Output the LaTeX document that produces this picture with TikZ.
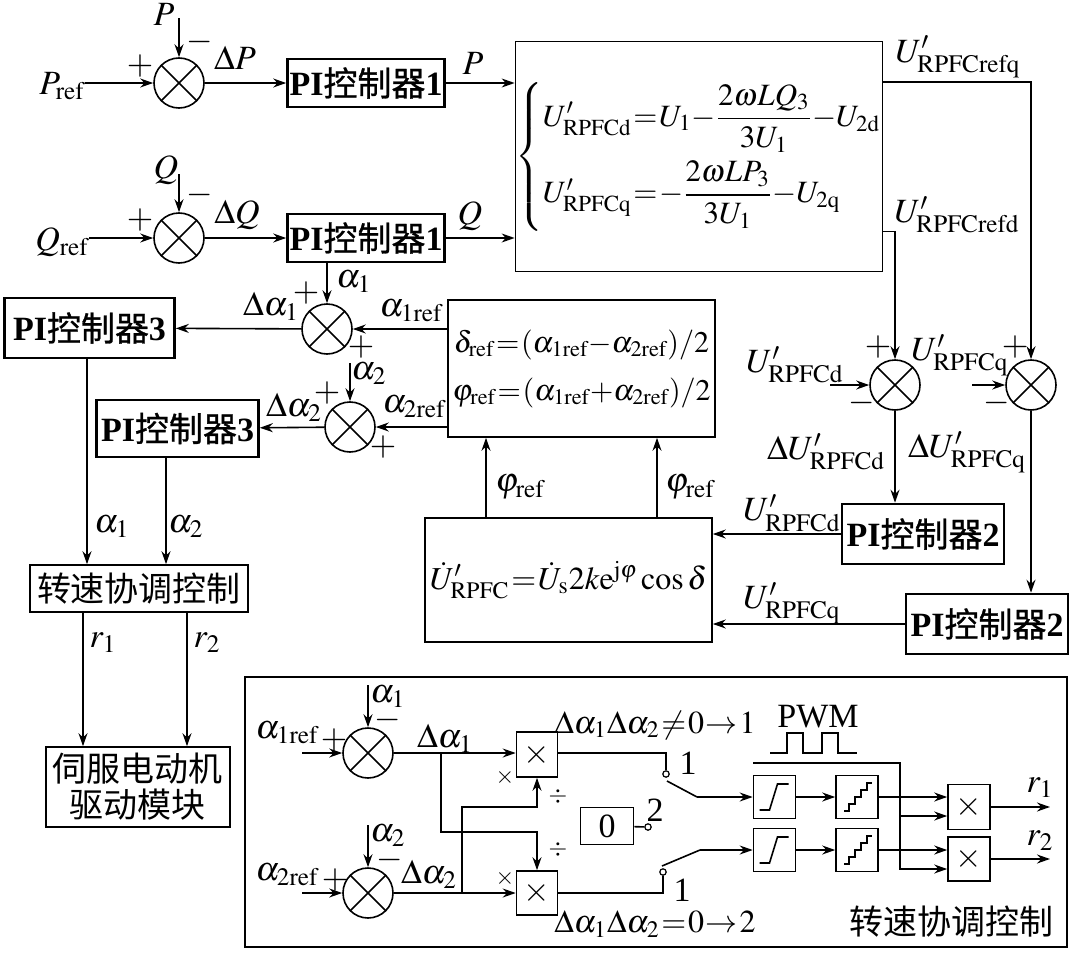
\documentclass[tikz,border=0pt]{standalone}
\usepackage{amsmath}
\usepackage{mathptmx}
\usepackage{fontspec}
\setmainfont{Liberation Serif}
\newfontfamily\zhfont{Noto Sans CJK SC}[BoldFont={Noto Sans CJK SC}, BoldFeatures={FakeBold=0.9}]
\newcommand{\zh}[1]{{\zhfont #1}}
\usepackage{tikz}
\usetikzlibrary{arrows.meta, calc}
\tikzset{
  % summing junction
  sumj/.style={circle, draw, line width=0.8pt, minimum size=25pt, inner sep=0pt},
  % PI controllers
  pibox/.style={rectangle, draw, line width=1.3pt, minimum width=78pt,
    minimum height=24pt, inner sep=1pt, font=\fontsize{17}{20}\selectfont\bfseries},
  pibig/.style={pibox, minimum width=81pt, minimum height=30pt},
  % plain blocks
  blk/.style={rectangle, draw, line width=0.8pt, inner sep=2pt, align=center},
  fnbox/.style={rectangle, draw, line width=0.8pt, minimum width=21pt,
    minimum height=21.5pt, inner sep=0pt},
  % switch contact
  contact/.style={circle, draw, fill=white, line width=0.6pt, minimum size=3.2pt, inner sep=0pt},
  % lines
  wire/.style={line width=0.8pt},
  arr/.style={-{Stealth[length=6.5pt,width=4.5pt]}, line width=0.8pt},
  % labels
  lab/.style={inner sep=0pt},
  smalllab/.style={inner sep=0pt, font=\fontsize{12}{14}\selectfont},
}

\begin{document}
\thickmuskip=1mu
\medmuskip=0mu
\begin{tikzpicture}[x=0.5pt, y=-0.5pt, font=\fontsize{17}{20}\selectfont]
\useasboundingbox (0,0) rectangle (1072,953);

% ---- power loops ----
\node[sumj] (sP) at (179,83) {};
\node[sumj] (sQ) at (179,238) {};
\node[pibox] (piP) at (366,83) {PI\zh{控制器}1};
\node[pibox] (piQ) at (366,238) {PI\zh{控制器}1};
\node[blk, minimum width=183pt, minimum height=115pt, inner sep=0pt,
  font=\fontsize{15.5}{18}\selectfont] (eq) at (699,156.5)
  {$\left\{\begin{array}{@{}l@{}}
   U'_{\mathrm{RPFCd}}=U_1-\dfrac{2\omega LQ_3}{3U_1}-U_{2\mathrm{d}}\\[12pt]
   U'_{\mathrm{RPFCq}}=-\dfrac{2\omega LP_3}{3U_1}-U_{2\mathrm{q}}
   \end{array}\right.$};

\node[lab] (lPref) at (62,86) {$P_{\mathrm{ref}}$};
\node[lab] (lQref) at (62,242) {$Q_{\mathrm{ref}}$};
\node[lab] (lP) at (164,14) {$P$};
\node[lab] (lQ) at (166,170) {$Q$};
\coordinate (Ptop) at (179,18);
\coordinate (Qtop) at (179,174);
\node[lab] (pP1) at (140,66) {$+$};
\node[lab] (mP1) at (200,42) {$-$};
\node[lab] (pQ1) at (140,220) {$+$};
\node[lab] (mQ1) at (200,195) {$-$};
\node[lab] (ldP) at (235,58) {$\Delta P$};
\node[lab] (ldQ) at (237,215) {$\Delta Q$};
\node[lab] (lPo) at (473,63) {$P$};
\node[lab] (lQo) at (470,216) {$Q$};

\draw[arr] (lPref.east |- sP) -- (sP);
\draw[arr] (lQref.east |- sQ) -- (sQ);
\draw[arr] (Ptop) -- (sP);
\draw[arr] (Qtop) -- (sQ);
\draw[arr] (sP) -- (piP);
\draw[arr] (sQ) -- (piQ);
\draw[arr] (piP) -- (piP -| eq.west);
\draw[arr] (piQ) -- (piQ -| eq.west);

% ---- voltage loops ----
\node[sumj] (sd) at (895,385) {};
\node[sumj] (sq) at (1031,385) {};
\node[pibig] (pid) at (923,534) {PI\zh{控制器}2};
\node[pibig] (piq) at (987,624) {PI\zh{控制器}2};
\node[blk, minimum width=143.5pt, minimum height=62pt, inner sep=0pt,
  font=\fontsize{16}{19}\selectfont] (U) at (568.5,580)
  {$\dot U'_{\mathrm{RPFC}}=\dot U_{\mathrm{s}}2k\mathrm{e}^{\mathrm{j}\varphi}\cos\delta$};
\node[blk, minimum width=133.5pt, minimum height=68.5pt, inner sep=0pt,
  font=\fontsize{15}{18}\selectfont] (ph) at (581.5,368.5)
  {$\delta_{\mathrm{ref}}=(\alpha_{1\mathrm{ref}}-\alpha_{2\mathrm{ref}})/2$\\[6pt]
   $\varphi_{\mathrm{ref}}=(\alpha_{1\mathrm{ref}}+\alpha_{2\mathrm{ref}})/2$};

\node[lab] (lrefq) at (958,57) {$U'_{\mathrm{RPFCrefq}}$};
\node[lab] (lrefd) at (957,215) {$U'_{\mathrm{RPFCrefd}}$};
\node[lab] (lUd) at (795,365) {$U'_{\mathrm{RPFCd}}$};
\node[lab] (lUq) at (960,355) {$U'_{\mathrm{RPFCq}}$};
\coordinate (Udst) at (830,385);
\coordinate (Uqst) at (972,385);
\node[lab] (pd1) at (878,347) {$+$};
\node[lab] (md1) at (862,403) {$-$};
\node[lab] (pq1) at (1015,347) {$+$};
\node[lab] (mq1) at (997,403) {$-$};
\node[lab] (ldUd) at (826,452) {$\Delta U'_{\mathrm{RPFCd}}$};
\node[lab] (ldUq) at (967,452) {$\Delta U'_{\mathrm{RPFCq}}$};
\node[lab] (lUdo) at (792,513) {$U'_{\mathrm{RPFCd}}$};
\node[lab] (lUqo) at (792,603) {$U'_{\mathrm{RPFCq}}$};
\node[lab] (lphi1) at (520,487) {$\varphi_{\mathrm{ref}}$};
\node[lab] (lphi2) at (690,487) {$\varphi_{\mathrm{ref}}$};

\draw[arr] ($(eq.north east)+(0,41)$) -| (sq);
\draw[arr] ($(eq.south east)+(0,-41)$) -| (sd);
\draw[arr] (Udst) -- (sd);
\draw[arr] (Uqst) -- (sq);
\draw[arr] (sd) -- (sd |- pid.north);
\draw[arr] (sq) -- (sq |- piq.north);
\draw[arr] (pid) -- (pid -| U.east);
\draw[arr] (piq) -- (piq -| U.east);
\coordinate (xf1) at (486,0);
\coordinate (xf2) at (657,0);
\draw[arr] (xf1 |- U.north) -- (xf1 |- ph.south);
\draw[arr] (xf2 |- U.north) -- (xf2 |- ph.south);

% ---- angle loops ----
\node[sumj] (sa1) at (327,329) {};
\node[sumj] (sa2) at (350,427) {};
\node[pibig, minimum width=85pt] (pi3a) at (89.5,328) {PI\zh{控制器}3};
\node[pibig, minimum height=28.5pt] (pi3b) at (177.5,428.5) {PI\zh{控制器}3};
\node[blk, minimum width=109pt, minimum height=23.5pt] (coord) at (139,588.5) {\zh{转速协调控制}};
\node[blk, minimum width=92pt, minimum height=40pt, inner sep=0pt] (servo) at (138,787)
  {\zh{伺服电动机}\\[-2pt]\zh{驱动模块}};

\node[lab] (la1) at (354,282) {$\alpha_1$};
\node[lab] (pa1) at (306,293) {$+$};
\node[lab] (lda1) at (271,306) {$\Delta\alpha_1$};
\node[lab] (la1r) at (411,311) {$\alpha_{1\mathrm{ref}}$};
\node[lab] (qa1) at (361,347) {$+$};
\node[lab] (la2) at (369,374) {$\alpha_2$};
\node[lab] (pa2) at (327,393) {$+$};
\node[lab] (lda2) at (294,407) {$\Delta\alpha_2$};
\node[lab] (la2r) at (414,407) {$\alpha_{2\mathrm{ref}}$};
\node[lab] (qa2) at (383,447) {$+$};
\coordinate (a2top) at (350,363);
\coordinate (xa1) at (87,0);
\coordinate (xa2) at (166,0);
\coordinate (xr1) at (83,0);
\coordinate (xr2) at (187,0);
\node[lab] (la1o) at (112,527) {$\alpha_1$};
\node[lab] (la2o) at (186,527) {$\alpha_2$};
\node[lab] (lr1o) at (103,643) {$r_1$};
\node[lab] (lr2o) at (207,643) {$r_2$};

\draw[arr] (sa1 -| ph.west) -- (sa1);
\draw[arr] (sa2 -| ph.west) -- (sa2);
\draw[arr] (sa1 |- piQ.south) -- (sa1);
\draw[arr] (a2top) -- (sa2);
\draw[arr] (sa1) -- (pi3a);
\draw[arr] (sa2) -- (pi3b);
\draw[arr] (xa1 |- pi3a.south) -- (xa1 |- coord.north);
\draw[arr] (xa2 |- pi3b.south) -- (xa2 |- coord.north);
\draw[arr] (xr1 |- coord.south) -- (xr1 |- servo.north);
\draw[arr] (xr2 |- coord.south) -- (xr2 |- servo.north);

% ---- speed coordination detail ----
\node[draw, line width=0.9pt, minimum width=411pt, minimum height=135pt] (inset) at (656,812) {};
\node[lab] (linset) at (951,922) {\zh{转速协调控制}};
\node[sumj] (sb1) at (368,753) {};
\node[sumj] (sb2) at (368,893) {};
\node[fnbox, minimum width=20.5pt, minimum height=22.5pt] (m1) at (537,754.5) {$\times$};
\node[fnbox, minimum width=20.5pt, minimum height=22pt] (m2) at (537,893) {$\times$};
\node[fnbox, minimum width=26.5pt, minimum height=18.5pt] (zero) at (607,826) {0};
\node[contact] (c1) at (666,774) {};
\node[contact] (c2) at (648,827) {};
\node[contact] (c3) at (663,872) {};
\node[fnbox] (r1) at (774.5,797) {};
\node[fnbox] (r2) at (774.5,850) {};
\node[fnbox] (st1) at (857,797) {};
\node[fnbox] (st2) at (857,850) {};
\node[fnbox, minimum height=22.5pt] (mr1) at (969,807) {$\times$};
\node[fnbox, minimum height=22pt] (mr2) at (969,859) {$\times$};

\node[lab] (lb1r) at (287,733) {$\alpha_{1\mathrm{ref}}$};
\node[lab] (pb1) at (334,740) {$+$};
\node[lab] (lb1) at (388,697) {$\alpha_1$};
\node[lab] (mb1) at (388,720) {$-$};
\node[lab] (ldb1) at (445,738) {$\Delta\alpha_1$};
\node[lab] (lb2r) at (287,875) {$\alpha_{2\mathrm{ref}}$};
\node[lab] (pb2) at (335,880) {$+$};
\node[lab] (lb2) at (388,836) {$\alpha_2$};
\node[lab] (mb2) at (390,860) {$-$};
\node[lab] (ldb2) at (429,874) {$\Delta\alpha_2$};
\node[smalllab] (xm1) at (505,777) {$\times$};
\node[smalllab] (dm1) at (558,796) {$\div$};
\node[smalllab] (xm2) at (505,878) {$\times$};
\node[smalllab] (dm2) at (558,849) {$\div$};
\node[lab, font=\fontsize{16}{19}\selectfont] (lcase1) at (655,725) {$\Delta\alpha_1\Delta\alpha_2\neq0\to1$};
\node[lab, font=\fontsize{16}{19}\selectfont] (lcase2) at (655,924) {$\Delta\alpha_1\Delta\alpha_2=0\to2$};
\node[lab] (ln1) at (688,763) {1};
\node[lab] (ln2) at (655,810) {2};
\node[lab] (ln3) at (682,890) {1};
\node[lab] (lpwm) at (818,717) {PWM};
\node[lab] (lr1) at (1040,788) {$r_1$};
\node[lab] (lr2) at (1040,841) {$r_2$};

\coordinate (b1in) at (302,753);
\coordinate (b2in) at (302,893);
\coordinate (b1top) at (368,685);
\coordinate (b2top) at (368,825);
\coordinate (br1) at (441,753);
\coordinate (br2) at (462,893);
\coordinate (k1) at (537,832);
\coordinate (k2) at (537,807);
\coordinate (arm1) at (667,781);
\coordinate (sw1) at (697,797);
\coordinate (arm2) at (662,866);
\coordinate (sw2) at (700,850);
\coordinate (pwa) at (753,763);
\coordinate (pwb) at (900,869);
\coordinate (pwc) at (900,816);
\coordinate (o1) at (1050,807);
\coordinate (o2) at (1050,859);

\draw[arr] (b1in) -- (sb1);
\draw[arr] (b2in) -- (sb2);
\draw[arr] (b1top) -- (sb1);
\draw[arr] (b2top) -- (sb2);
\draw[arr] (sb1) -- (sb1 -| m1.west);
\draw[arr] (sb2) -- (m2);
\draw[arr] (br1) |- (k1) -- (m2);
\draw[arr] (br2) |- (k2) -- (m1);
\draw[wire] (sb1 -| m1.east) -| (c1);
\draw[wire] (m2) -| (c3);
\draw[wire] (zero) -- (c2);
\draw[wire] (arm1) -- (sw1);
\draw[wire] (arm2) -- (sw2);
\draw[arr] (sw1) -- (r1);
\draw[arr] (sw2) -- (r2);
\draw[arr] (r1) -- (st1);
\draw[arr] (r2) -- (st2);
\draw[arr] (st1) -- (st1 -| mr1.west);
\draw[arr] (st2) -- (st2 -| mr2.west);
\draw[arr] (pwa) -| (pwb) -- (pwb -| mr2.west);
\draw[arr] (pwc) -- (pwc -| mr1.west);
\draw[arr] (mr1) -- (o1);
\draw[arr] (mr2) -- (o2);

% PWM pulses
\draw[wire] (770,753) -- (787,753) -- (787,733) -- (803,733) -- (803,753)
  -- (822,753) -- (822,733) -- (838,733) -- (838,753) -- (857,753);

% ramp and staircase symbols
\foreach \n in {r1,r2}
  \draw[wire] ([shift={(-15,13)}]\n.center) -- ++(10,0) -- ++(8,-26) -- ++(11,0);
\foreach \n in {st1,st2}
  \draw[wire] ([shift={(-13,14)}]\n.center) -- ++(5,0) -- ++(0,-7) -- ++(6,0) -- ++(0,-7)
    -- ++(6,0) -- ++(0,-7) -- ++(6,0) -- ++(0,-7) -- ++(5,0);

% crosses in the summing junctions
\foreach \s in {sP,sQ,sa1,sa2,sd,sq,sb1,sb2}
  \draw[wire] (\s.north east) -- (\s.south west) (\s.north west) -- (\s.south east);
\end{tikzpicture}
\end{document}
